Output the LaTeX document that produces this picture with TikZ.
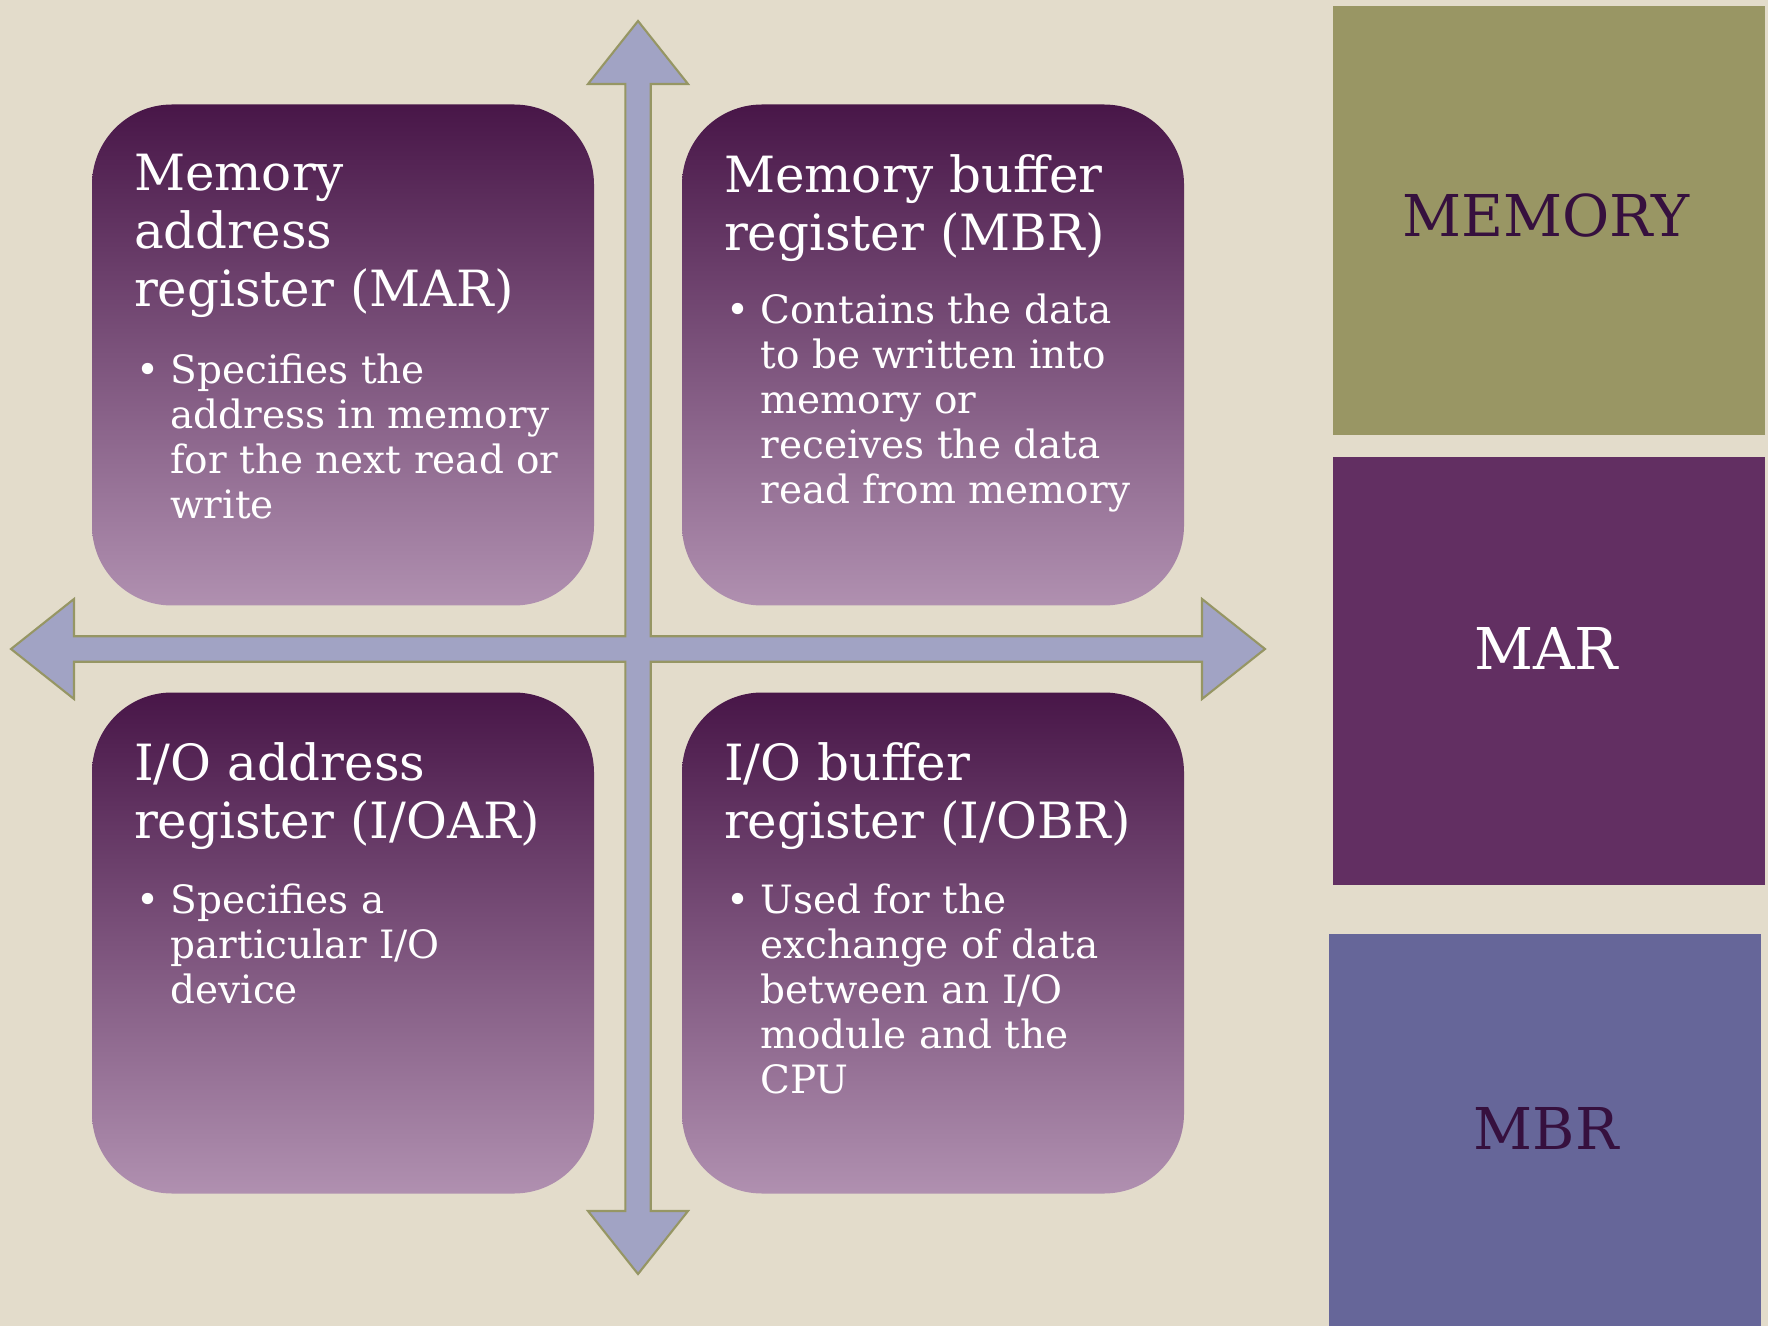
\documentclass[tikz,border=0pt]{standalone}
\usepackage{fontspec}
\setmainfont{DejaVu Serif}
\usepackage{tikz}
\usetikzlibrary{positioning}
\definecolor{paper}{RGB}{227,220,203}
\definecolor{regtop}{RGB}{72,22,72}
\definecolor{regmid}{RGB}{124,94,124}
\definecolor{regbot}{RGB}{176,144,176}
\definecolor{crossfill}{RGB}{161,163,196}
\definecolor{crossline}{RGB}{150,150,100}
\definecolor{olivebox}{RGB}{153,150,100}
\definecolor{plumbox}{RGB}{98,47,98}
\definecolor{slatebox}{RGB}{102,102,153}
\definecolor{inkpurple}{RGB}{54,16,62}
\newcommand{\bul}{\makebox[0.345cm][l]{\textbullet}}
\newcommand{\ind}{\makebox[0.345cm]{}}

\begin{document}
\begin{tikzpicture}[reg box/.style={rectangle,rounded corners=0.8cm,minimum width=5.02cm,minimum height=5.01cm,top color=regtop,middle color=regmid,bottom color=regbot,inner sep=0pt},
    head text/.style={anchor=north west,align=left,inner sep=0pt,text=white,font=\fontsize{14.2}{16.5}\selectfont},
    body text/.style={anchor=north west,align=left,inner sep=0pt,text=white,font=\fontsize{11.1}{12.8}\selectfont},
    side label/.style={inner sep=0pt,font=\fontsize{16.4}{20}\selectfont}]
   \useasboundingbox (0,0) rectangle (17.68,-13.26);
   \fill[paper] (0,0) rectangle (17.68,-13.26);
   % four way arrow
   \draw[fill=crossfill,draw=crossline,line width=0.6pt,line join=miter]
     (6.38,-0.21) -- (6.88,-0.84) -- (6.507,-0.84) -- (6.507,-6.363) -- (12.02,-6.363)
     -- (12.02,-5.99) -- (12.65,-6.49) -- (12.02,-6.99) -- (12.02,-6.617) -- (6.507,-6.617)
     -- (6.507,-12.11) -- (6.88,-12.11) -- (6.38,-12.74) -- (5.88,-12.11) -- (6.253,-12.11)
     -- (6.253,-6.617) -- (0.74,-6.617) -- (0.74,-6.99) -- (0.11,-6.49) -- (0.74,-5.99)
     -- (0.74,-6.363) -- (6.253,-6.363) -- (6.253,-0.84) -- (5.88,-0.84) -- cycle;
   \begin{scope}
     \node[reg box] (mar box) at (3.43,-3.55) {};
     \node[reg box] (mbr box) at (9.33,-3.55) {};
     \node[reg box] (ioar box) at (3.43,-9.43) {};
     \node[reg box] (iobr box) at (9.33,-9.43) {};
     \node[head text] (mar head) at ([xshift=0.42cm,yshift=-0.5cm]mar box.north west) {Memory\\address\\register (MAR)};
     \node[body text] (mar body) at ([xshift=0.44cm,yshift=-2.49cm]mar box.north west) {\bul Specifies the\\\ind address in memory\\\ind for the next read or\\\ind write};
     \node[head text] (mbr head) at ([xshift=0.42cm,yshift=-0.5cm]mbr box.north west) {Memory buffer\\register (MBR)};
     \node[body text] (mbr body) at ([xshift=0.44cm,yshift=-1.89cm]mbr box.north west) {\bul Contains the data\\\ind to be written into\\\ind memory or\\\ind receives the data\\\ind read from memory};
     \node[head text] (ioar head) at ([xshift=0.42cm,yshift=-0.5cm]ioar box.north west) {I/O address\\register (I/OAR)};
     \node[body text] (ioar body) at ([xshift=0.44cm,yshift=-1.91cm]ioar box.north west) {\bul Specifies a\\\ind particular I/O\\\ind device};
     \node[head text] (iobr head) at ([xshift=0.42cm,yshift=-0.5cm]iobr box.north west) {I/O buffer\\register (I/OBR)};
     \node[body text] (iobr body) at ([xshift=0.44cm,yshift=-1.91cm]iobr box.north west) {\bul Used for the\\\ind exchange of data\\\ind between an I/O\\\ind module and the\\\ind CPU};
   \end{scope}
   % side panels
   \fill[olivebox] (13.33,-0.06) rectangle (17.65,-4.35);
   \fill[plumbox] (13.33,-4.57) rectangle (17.65,-8.85);
   \fill[slatebox] (13.29,-9.34) rectangle (17.61,-13.26);
   \node[side label,text=inkpurple] (memory) at (15.46,-2.16) {MEMORY};
   \node[side label,text=white] (mar) at (15.46,-6.48) {MAR};
   \node[side label,text=inkpurple] (mbr) at (15.46,-11.28) {MBR};
\end{tikzpicture}
\end{document}
